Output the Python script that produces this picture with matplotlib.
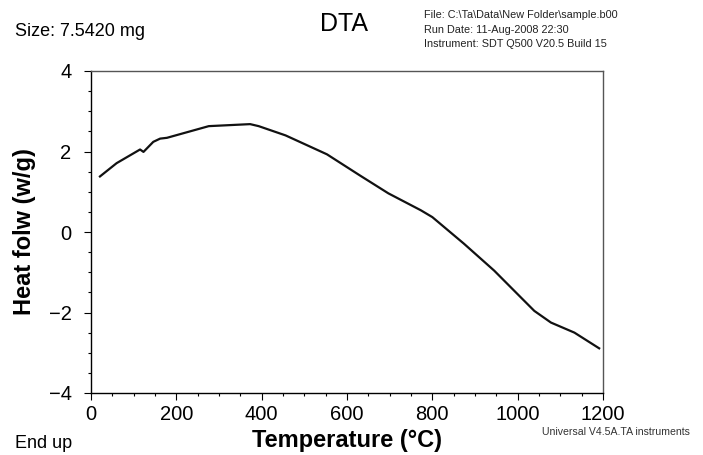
import numpy as np
import matplotlib.pyplot as plt
from matplotlib.ticker import MultipleLocator

plt.rcParams['font.family'] = ['Liberation Sans', 'DejaVu Sans']

# DTA curve
temp = [21, 60, 115, 123, 146, 162, 178, 276, 373, 393, 456, 553, 631,
        697, 773, 800, 874, 945, 1007, 1039, 1078, 1133, 1191]
heat = [1.38, 1.71, 2.05, 1.99, 2.24, 2.32, 2.34, 2.63, 2.68, 2.63, 2.40,
        1.93, 1.40, 0.96, 0.54, 0.37, -0.29, -0.96, -1.62, -1.96, -2.25,
        -2.50, -2.89]

x_ticks = [0, 200, 400, 600, 800, 1000, 1200]
y_ticks = [-4, -2, 0, 2, 4]

fig = plt.figure(figsize=(7.03, 4.55), dpi=100)
ax = fig.add_axes([91 / 703, 1 - 393 / 455, 512 / 703, 322 / 455])

ax.plot(temp, heat, "-", color="#111111", linewidth=1.6)

ax.set_xlim(0, 1200)
ax.set_ylim(-4, 4)
ax.set_xticks(x_ticks)
ax.set_yticks(y_ticks)
ax.xaxis.set_minor_locator(MultipleLocator(50))
ax.yaxis.set_minor_locator(MultipleLocator(0.5))
ax.tick_params(which="major", direction="out", length=5, width=0.8,
               labelsize=14.5)
ax.tick_params(axis="y", which="major", pad=9)
ax.tick_params(axis="x", which="major", pad=4)
ax.tick_params(which="minor", direction="out", length=2.5, width=0.8)

ax.spines["left"].set_color("black")
ax.spines["bottom"].set_color("black")
ax.spines["top"].set_color("#555555")
ax.spines["right"].set_color("#555555")
for s in ax.spines.values():
    s.set_linewidth(1.0)

ax.set_xlabel("Temperature (°C)", fontsize=17, fontweight="bold")
ax.xaxis.set_label_coords(0.5, -(441 - 393) / 322, transform=ax.transAxes)
ax.xaxis.label.set_va("center")
ax.set_ylabel("Heat folw (w/g)", fontsize=17, fontweight="bold")
ax.yaxis.set_label_coords(-(91 - 24) / 512, 0.5, transform=ax.transAxes)
ax.yaxis.label.set_va("center")

fig.text(15 / 703, 1 - 32 / 455, "Size: 7.5420 mg", fontsize=13, va="center")
fig.text(344 / 703, 1 - 24 / 455, "DTA", fontsize=18, ha="center", va="center")
fig.text(424 / 703, 1 - 15 / 455, "File: C:\\Ta\\Data\\New Folder\\sample.b00",
         fontsize=7.8, va="center", color="#222222")
fig.text(424 / 703, 1 - 30 / 455, "Run Date: 11-Aug-2008 22:30",
         fontsize=7.8, va="center", color="#222222")
fig.text(424 / 703, 1 - 44 / 455, "Instrument: SDT Q500 V20.5 Build 15",
         fontsize=7.8, va="center", color="#222222")
fig.text(15 / 703, 1 - 443 / 455, "End up", fontsize=13, va="center")
fig.text(690 / 703, 1 - 432 / 455, "Universal V4.5A.TA instruments",
         fontsize=7.6, ha="right", va="center", color="#333333")

fig.savefig("out.png", dpi=100)
